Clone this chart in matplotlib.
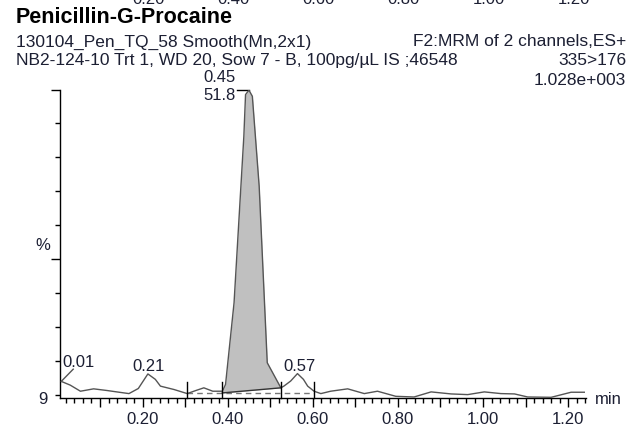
import numpy as np
import matplotlib.pyplot as plt
from matplotlib.ticker import MultipleLocator, FixedLocator

plt.rcParams['font.family'] = ['Liberation Sans', 'DejaVu Sans']

# Chromatogramm (Retentionszeit in min, Intensität in %)
rt = [0.009, 0.03, 0.054, 0.085, 0.117, 0.145, 0.168, 0.19, 0.2125, 0.23,
      0.242, 0.274, 0.305, 0.325, 0.344, 0.365, 0.3875, 0.395, 0.415, 0.438,
      0.442, 0.450, 0.458, 0.474, 0.493, 0.525, 0.532, 0.548, 0.564, 0.578,
      0.588, 0.603, 0.619, 0.642, 0.682, 0.721, 0.752, 0.795, 0.838, 0.878,
      0.925, 0.964, 1.003, 1.042, 1.074, 1.105, 1.16, 1.207, 1.238]
pct = [13.9, 12.8, 11.0, 11.7, 11.2, 10.7, 10.3, 11.8, 16.1, 14.5,
       12.5, 11.5, 10.3, 11.2, 12.0, 11.0, 11.0, 13.0, 37.1, 86.2,
       98.5, 99.8, 98.0, 71.5, 19.4, 12.0, 12.5, 14.0, 16.2, 14.5,
       12.5, 11.0, 10.3, 11.0, 11.7, 10.3, 11.0, 9.5, 9.3, 10.8,
       10.2, 10.0, 10.8, 10.3, 10.2, 9.3, 9.2, 10.7, 10.7]

# Integration
peak_start, peak_end = 0.3875, 0.525
base_start, base_end = 10.5, 12.0
marker_rt = [0.305, 0.3875, 0.526, 0.603]
dash_base = 10.5

# Peak-Beschriftungen
peak_labels = ['0.01', '0.21', '0.57']
peak_label_rt = [0.012, 0.213, 0.569]
apex_rt, apex_label, apex_area = 0.45, '0.45', '51.8'

xticks = [0.2, 0.4, 0.6, 0.8, 1.0, 1.2]
xticklabels = ['0.20', '0.40', '0.60', '0.80', '1.00', '1.20']

W, H = 638, 427
fig = plt.figure(figsize=(W / 100, H / 100), dpi=100)
ax = fig.add_axes([60 / W, 1 - 399 / H, 526 / W, (399 - 90.5) / H])
ax.set_xlim(0.006, 1.242)
ax.set_ylim(9, 100)

txtc = '#1c1f33'
fs = 12

def ftext(x, y, s, **kw):
    fig.text(x / W, 1 - y / H, s, va='baseline', **kw)

def xpix(v):
    # Pixelposition einer Retentionszeit (gleiche Skala wie die Achse)
    return ax.transData.transform((v, 0))[0]

# Kopfzeilen (Reste der Achse des Diagramms darüber, oben abgeschnitten)
for xc, lab in zip(xticks, xticklabels):
    ftext(xpix(xc) + 6, 3.5, lab, ha='center', fontsize=fs, color=txtc)
ftext(16, 22.7, 'Penicillin-G-Procaine', fontsize=15.5, fontweight='bold', color='black')
ftext(16.5, 46.5, '130104_Pen_TQ_58 Smooth(Mn,2x1)', fontsize=12.5, color=txtc)
ftext(626, 46, 'F2:MRM of 2 channels,ES+', ha='right', fontsize=12.5, color=txtc)
ftext(16.5, 65, 'NB2-124-10 Trt 1, WD 20, Sow 7 - B, 100pg/µL IS ;46548', fontsize=12.5, color=txtc)
ftext(626, 65, '335>176', ha='right', fontsize=12.5, color=txtc)
ftext(626, 85, '1.028e+003', ha='right', fontsize=12.5, color=txtc)

# Spur
rt_a = np.array(rt)
pct_a = np.array(pct)
ax.plot(rt_a, pct_a, color='#555555', lw=1.0, zorder=3)

mask = (rt_a >= peak_start) & (rt_a <= peak_end)
base = np.interp(rt_a[mask], [peak_start, peak_end], [base_start, base_end])
ax.fill_between(rt_a[mask], base, pct_a[mask], color='#c0c0c0', lw=0, zorder=2)
ax.plot([peak_start, peak_end], [base_start, base_end], color='#333333', lw=1.0, zorder=3)
ax.plot([marker_rt[0], marker_rt[-1]], [dash_base, dash_base], color='#777777',
        lw=1.0, ls=(0, (4, 3)), zorder=1)
for m in marker_rt:
    ax.plot([m, m], [9, 13.8], color='black', lw=1.0, zorder=4, clip_on=False)

# Beschriftungen
ax.text(peak_label_rt[0], 18.5, peak_labels[0], fontsize=fs, color=txtc, ha='left', va='baseline')
ax.plot([rt[0], 0.037], [pct[0], 17.5], color='#555555', lw=1.0)
ax.text(peak_label_rt[1], 17.3, peak_labels[1], fontsize=fs, color=txtc, ha='center', va='baseline')
ax.text(peak_label_rt[2], 17.3, peak_labels[2], fontsize=fs, color=txtc, ha='center', va='baseline')
ax.text(0.418, 102.6, apex_label, fontsize=fs, color=txtc, ha='right', va='baseline', clip_on=False)
ax.text(0.418, 97.2, apex_area, fontsize=fs, color=txtc, ha='right', va='baseline', clip_on=False)
ax.plot([0.421, apex_rt], [100, 100], color='black', lw=1.0, clip_on=False)

for s in ['top', 'right']:
    ax.spines[s].set_visible(False)
for s in ['left', 'bottom']:
    ax.spines[s].set_linewidth(1.0)

ax.set_xticks(np.arange(0.1, 1.25, 0.1))
ax.xaxis.set_minor_locator(MultipleLocator(0.02))
ax.tick_params(axis='x', which='major', length=6.5, width=1, direction='out', labelbottom=False)
ax.tick_params(axis='x', which='minor', length=3.5, width=1, direction='out')
for xc, lab in zip(xticks, xticklabels):
    ftext(xpix(xc), 424, lab, ha='center', fontsize=fs, color=txtc)

ax.yaxis.set_major_locator(FixedLocator([50, 100]))
ax.yaxis.set_minor_locator(FixedLocator([10, 20, 30, 40, 60, 70, 80, 90]))
ax.tick_params(axis='y', which='major', length=6.5, width=1, direction='out', labelleft=False)
ax.tick_params(axis='y', which='minor', length=3.6, width=1, direction='out')

ftext(48, 404, '9', ha='right', fontsize=fs, color=txtc)
ftext(43, 250, '%', ha='center', fontsize=fs, color=txtc)
ftext(595, 404, 'min', ha='left', fontsize=fs, color=txtc)

fig.savefig('out.png', dpi=100)
